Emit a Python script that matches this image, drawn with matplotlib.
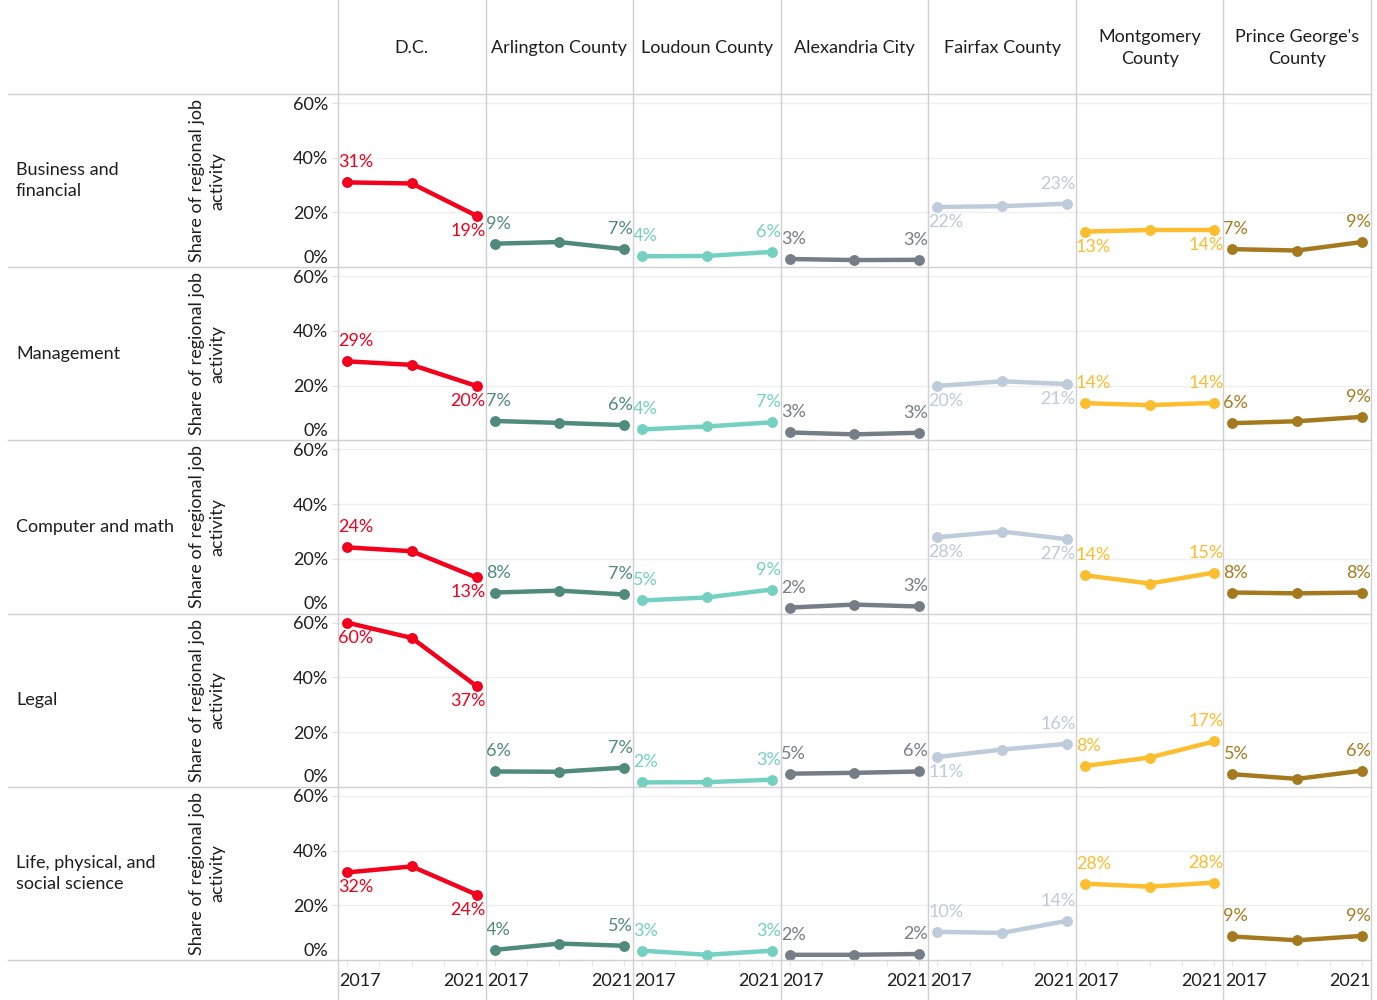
import matplotlib
matplotlib.use("Agg")
import math
import matplotlib.pyplot as plt
from matplotlib.lines import Line2D
from matplotlib.transforms import ScaledTranslation

plt.rcParams['font.family'] = ['Lato', 'DejaVu Sans']

years = [2017, 2019, 2021]
year_labels = ["2017", "2021"]
occupations = ["Business and\nfinancial", "Management", "Computer and math",
               "Legal", "Life, physical, and\nsocial science"]
regions = ["D.C.", "Arlington County", "Loudoun County", "Alexandria City",
           "Fairfax County", "Montgomery\nCounty", "Prince George's\nCounty"]
y_ticks = [0, 20, 40, 60]
y_tick_labels = ["0%", "20%", "40%", "60%"]
y_title = "Share of regional job\nactivity"

# values (%) per occupation row: [2017, 2019, 2021]
dc = [[31.0, 30.6, 18.8], [28.9, 27.6, 19.9], [24.2, 22.8, 13.2], [60.0, 54.4, 36.8], [32.0, 34.2, 23.9]]
arlington = [[8.6, 9.2, 6.6], [7.1, 6.4, 5.6], [7.7, 8.4, 7.0], [5.6, 5.5, 7.0], [3.7, 6.0, 5.2]]
loudoun = [[4.0, 4.1, 5.6], [4.0, 5.1, 6.6], [4.8, 5.9, 8.8], [1.6, 1.7, 2.6], [3.4, 1.9, 3.4]]
alexandria = [[3.0, 2.6, 2.7], [2.9, 2.2, 2.8], [2.2, 3.3, 2.6], [4.8, 5.1, 5.6], [1.9, 1.9, 2.2]]
fairfax = [[22.0, 22.3, 23.2], [19.9, 21.6, 20.6], [27.9, 30.0, 27.2], [10.9, 13.6, 15.7], [10.3, 9.9, 14.3]]
montgomery = [[13.0, 13.6, 13.6], [13.6, 12.9, 13.7], [14.0, 11.0, 15.0], [7.6, 10.7, 16.6], [27.9, 26.8, 28.3]]
prince_georges = [[6.6, 6.1, 9.2], [6.3, 7.0, 8.6], [7.7, 7.4, 7.7], [4.6, 2.9, 5.9], [8.6, 7.2, 8.8]]

series = [dc, arlington, loudoun, alexandria, fairfax, montgomery, prince_georges]
colors = ["#f2001c", "#4f8a7d", "#74d1c1", "#757d87", "#bdcbdb", "#fcbd2f", "#a57a1f"]

# label placement (row, col) -> (first_below, last_below)
below = {
    (0, 0): (False, True), (0, 4): (True, False), (0, 5): (True, True),
    (1, 0): (False, True), (1, 4): (True, True),
    (2, 0): (False, True), (2, 4): (True, True),
    (3, 0): (True, True), (3, 4): (True, False),
    (4, 0): (True, True),
}


def pct(v):
    return f"{int(math.floor(v + 0.5))}%"


W, H = 1377, 1000
fig = plt.figure(figsize=(W / 100, H / 100), dpi=100)

x0, x1 = 338, 1371
y_top, y_bot = 94, 960
ncol, nrow = 7, 5
cw = (x1 - x0) / ncol
rh = (y_bot - y_top) / nrow
border = "#d0d0d0"
grid_c = "#efefef"
fs = 13
txt = "#1e1e1e"


def fx(px):
    return px / W


def fy(py):
    return 1 - py / H


for r in range(nrow):
    for c in range(ncol):
        left = x0 + c * cw
        top = y_top + r * rh
        ax = fig.add_axes([fx(left), fy(top + rh), cw / W, rh / H])
        ax.set_xlim(2016.72, 2021.28)
        ax.set_ylim(0, 63.3)
        ax.set_facecolor("none")
        for s in ax.spines.values():
            s.set_visible(False)
        for yv in y_ticks[1:]:
            ax.axhline(yv, color=grid_c, lw=1, zorder=0)
        vals = series[c][r]
        col = colors[c]
        ax.plot(years, vals, color=col, lw=3.2, marker="o", markersize=6.8,
                solid_capstyle="round", zorder=3, clip_on=False)
        ax.plot(years[1], vals[1], "o", color=col, markersize=5.8, zorder=4)
        fb, lb = below.get((r, c), (False, False))
        dy_f = -15 if fb else 20
        dy_l = -15 if lb else 20
        tr_f = ax.transData + ScaledTranslation(-9 / 100, dy_f / 100, fig.dpi_scale_trans)
        tr_l = ax.transData + ScaledTranslation(9 / 100, dy_l / 100, fig.dpi_scale_trans)
        ax.text(years[0], vals[0], pct(vals[0]), color=col, fontsize=fs,
                ha="left", va="center", transform=tr_f, zorder=5)
        ax.text(years[-1], vals[-1], pct(vals[-1]), color=col, fontsize=fs,
                ha="right", va="center", transform=tr_l, zorder=5)
        ax.set_xticks([])
        if c == 0:
            ax.set_yticks(y_ticks)
            ax.set_yticklabels(y_tick_labels, fontsize=fs, color=txt)
            ax.tick_params(axis="y", length=4, color="#e0e0e0", pad=3)
            lab0 = ax.get_yticklabels()[0]
            lab0.set_transform(lab0.get_transform() +
                               ScaledTranslation(0, 11 / 100, fig.dpi_scale_trans))
        else:
            ax.set_yticks([])
        if r == nrow - 1:
            ax.set_xticks(range(2017, 2022))
            ax.tick_params(axis="x", length=4, color="#e4e4e4", labelbottom=False)
            ax.text(0.01, -0.122, year_labels[0], transform=ax.transAxes, fontsize=fs,
                    ha="left", va="center", color=txt)
            ax.text(0.995, -0.122, year_labels[1], transform=ax.transAxes, fontsize=fs,
                    ha="right", va="center", color=txt)

# row labels and axis titles
for r in range(nrow):
    cy = y_top + r * rh + rh / 2
    fig.text(fx(16), fy(cy), occupations[r], fontsize=fs, ha="left", va="center",
             color=txt, linespacing=1.35)
    fig.text(fx(207), fy(cy), y_title, fontsize=fs, ha="center", va="center",
             rotation=90, color=txt, multialignment="center", linespacing=1.3)

# column headers
for c in range(ncol):
    cx = x0 + c * cw + cw / 2
    fig.text(fx(cx), fy(48), regions[c], fontsize=fs, ha="center", va="center",
             color=txt, multialignment="center", linespacing=1.4)

# borders
for c in range(ncol + 1):
    xp = x0 + c * cw
    fig.add_artist(Line2D([fx(xp), fx(xp)], [fy(0), fy(1000)], color=border, lw=1))
for r in range(nrow + 1):
    yp = y_top + r * rh
    fig.add_artist(Line2D([fx(8), fx(x1)], [fy(yp), fy(yp)], color=border, lw=1))

fig.savefig("out.png", dpi=100)
